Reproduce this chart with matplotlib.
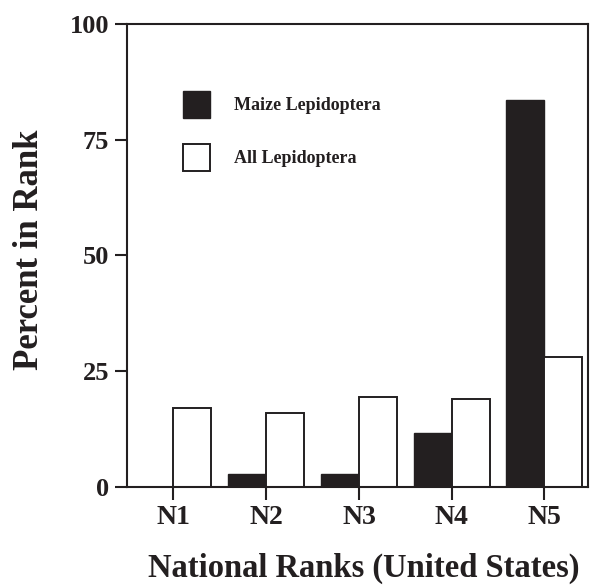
import numpy as np
import matplotlib
matplotlib.use("Agg")
import matplotlib.pyplot as plt

# values
ranks = ["N1", "N2", "N3", "N4", "N5"]
maize = [0.0, 2.7, 2.7, 11.7, 83.6]
all_lep = [17.1, 16.0, 19.4, 19.0, 28.0]
yticks = [0, 25, 50, 75, 100]

ink = "#231f20"
plt.rcParams["font.family"] = ["Liberation Serif", "DejaVu Serif"]
plt.rcParams["font.weight"] = "bold"

fig = plt.figure(figsize=(5.91, 5.88), dpi=100)
ax = fig.add_axes([0.215, 0.172, 0.78, 0.787])

x = np.arange(len(ranks))
w = 0.41
ax.bar(x - w / 2, maize, width=w, color=ink, edgecolor=ink, linewidth=1.0,
       label="Maize Lepidoptera")
ax.bar(x + w / 2, all_lep, width=w, color="white", edgecolor=ink, linewidth=1.4,
       label="All Lepidoptera")

ax.set_xlim(-0.5, 4.47)
ax.set_ylim(0, 100)
ax.set_xticks(x)
ax.set_xticklabels(ranks, fontsize=20, fontweight="bold")
ax.set_yticks(yticks)
ax.set_yticklabels([str(v) for v in yticks], fontsize=19, fontweight="bold")
ax.tick_params(axis="both", direction="out", length=9, width=1.5, color=ink,
               labelcolor=ink, pad=4)
for s in ax.spines.values():
    s.set_linewidth(1.5)
    s.set_color(ink)

leg = ax.legend(loc="upper left", bbox_to_anchor=(0.102, 0.875), frameon=False,
                borderpad=0, handlelength=1.5, handleheight=1.9,
                handletextpad=1.3, labelspacing=1.45,
                prop={"size": 13, "weight": "bold"})
for t in leg.get_texts():
    t.set_color(ink)

fig.text(30 / 591, 1 - 250 / 588, "Percent in Rank", rotation=90,
         ha="center", va="center", fontsize=25, fontweight="bold", color=ink)
fig.text(364 / 591, 1 - 568 / 588, "National Ranks (United States)",
         ha="center", va="center", fontsize=23.5, fontweight="bold", color=ink)

fig.savefig("out.png", dpi=100)
